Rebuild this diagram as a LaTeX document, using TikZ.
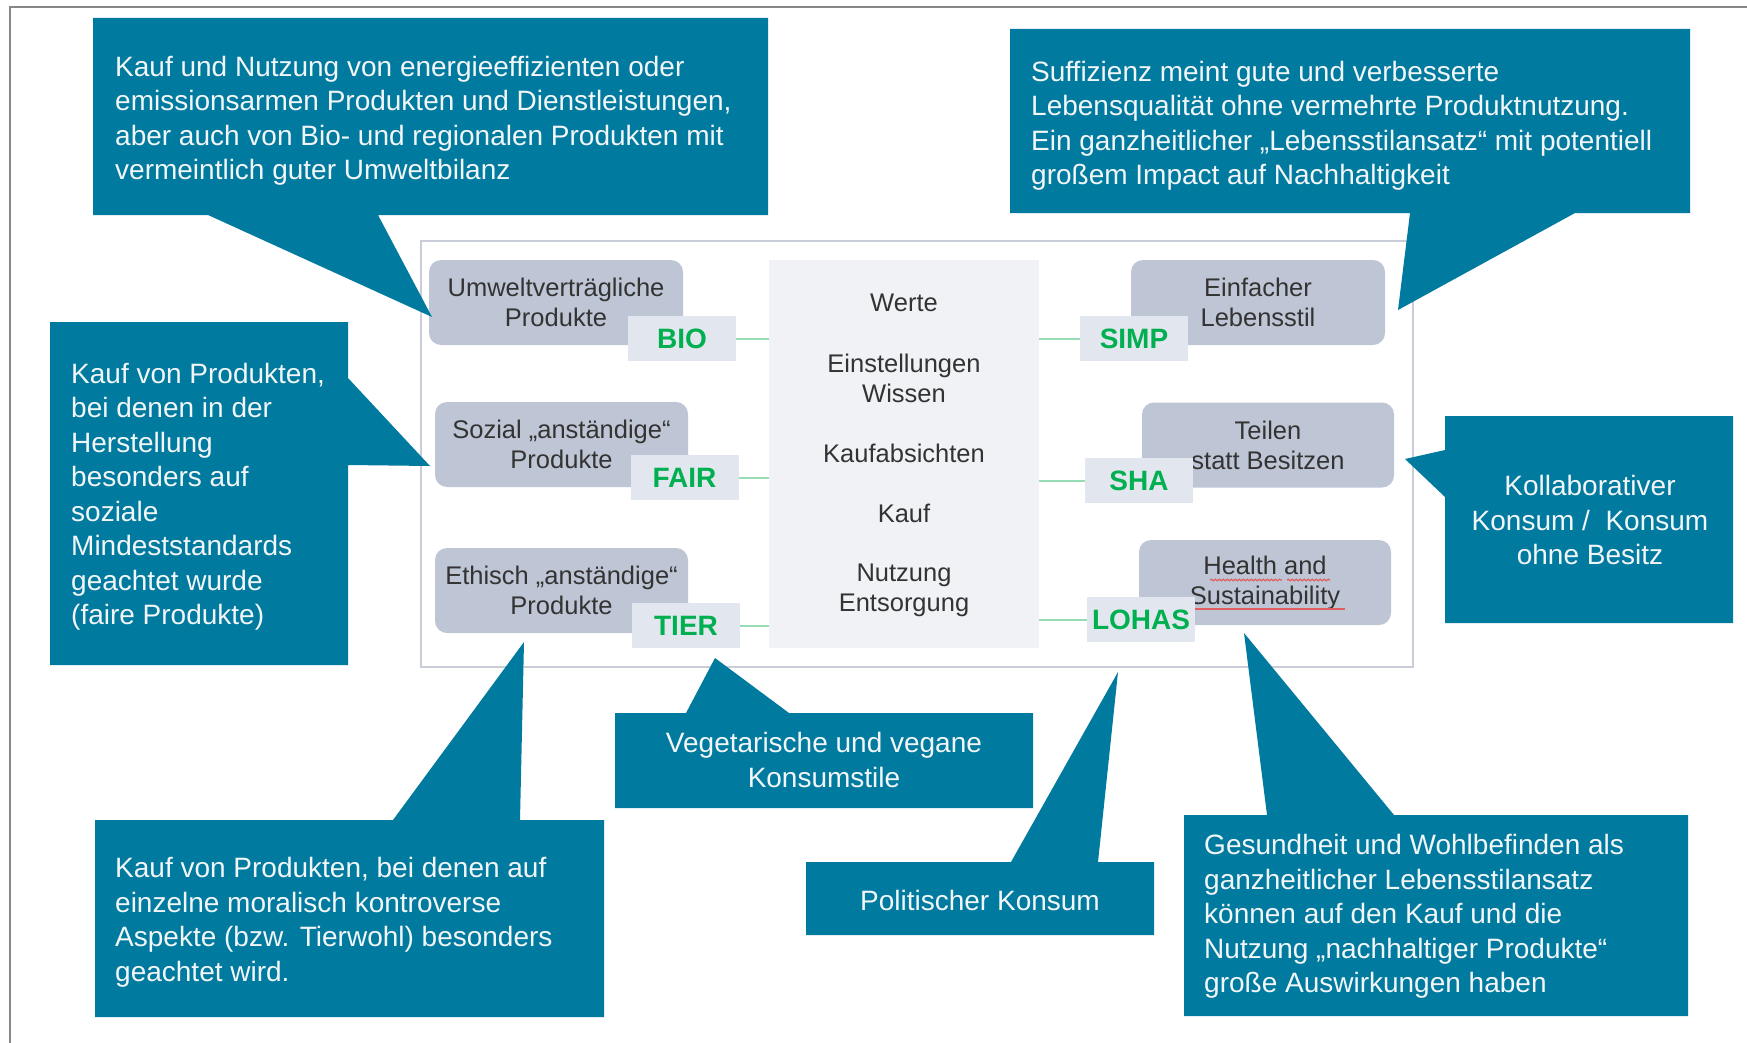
\documentclass[tikz,border=0pt]{standalone}
\usepackage{fontspec}
\setmainfont{Liberation Sans}
\usetikzlibrary{calc,decorations.pathmorphing}
\definecolor{tealc}{RGB}{0,122,158}
\definecolor{ctextc}{RGB}{242,246,248}
\definecolor{gboxc}{RGB}{190,197,212}
\definecolor{lboxc}{RGB}{226,230,239}
\definecolor{colc}{RGB}{240,242,246}
\definecolor{mainc}{RGB}{200,205,216}
\definecolor{greenc}{RGB}{0,176,80}
\definecolor{glinec}{RGB}{150,220,180}
\definecolor{dtextc}{RGB}{51,51,51}
\definecolor{framec}{RGB}{135,135,135}
\definecolor{redc}{RGB}{225,95,95}
\newcommand\callfont{\fontsize{28}{34.5}\selectfont}
\newcommand\boxfont{\fontsize{25.5}{30}\selectfont}
\newcommand\labfont{\fontsize{28}{32}\selectfont\bfseries}
\begin{document}
\begin{tikzpicture}[x=1pt,y=-1pt,
  callout/.style={fill=tealc},
  ctext/.style={text=ctextc, font=\callfont, inner sep=0pt},
  graybox/.style={fill=gboxc, rounded corners=12pt, minimum height=85pt, text=dtextc, font=\boxfont, align=center, inner sep=0pt},
  labbox/.style={fill=lboxc, minimum width=108pt, minimum height=45pt, text=greenc, font=\labfont, inner sep=0pt},
  gconn/.style={draw=glinec, line width=2pt},
  coltext/.style={text=dtextc, font=\boxfont, align=center, inner sep=0pt},
  redline/.style={draw=redc, line width=1.2pt}]
\useasboundingbox (0,0) rectangle (1747,1043);
\fill[white] (0,0) rectangle (1747,1043);
% outer frame
\draw[framec, line width=2.5pt] (10,1043) -- (10,7) -- (1747,7);

% main box and centre column
\node[draw=mainc, line width=2pt, fill=white, minimum width=992pt, minimum height=426pt, inner sep=0pt] (main) at (917,454) {};
\node[fill=colc, minimum width=270pt, minimum height=388pt, inner sep=0pt] (col) at (904,454) {};
\node[coltext] (werte) at (904,303) {Werte};
\node[coltext] (einst) at (904,378) {Einstellungen\\Wissen};
\node[coltext] (kabs) at (904,453) {Kaufabsichten};
\node[coltext] (kauf) at (904,513) {Kauf};
\node[coltext] (nutz) at (904,590) {Nutzung\\Entsorgung};

% grey boxes
\node[graybox, minimum width=254pt] (umw) at (556,302.5) {Umweltverträgliche\\Produkte};
\node[graybox, minimum width=253pt] (soz) at (561.5,444.5) {Sozial „anständige“\\Produkte};
\node[graybox, minimum width=253pt] (eth) at (561.5,590.5) {Ethisch „anständige“\\Produkte};
\node[graybox, minimum width=254pt] (einf) at (1258,302.5) {Einfacher\\Lebensstil};
\node[graybox, minimum width=252pt] (teil) at (1268,445) {Teilen\\statt Besitzen};
\node[graybox, minimum width=252pt] (health) at (1265,582.5) {Health and\\Sustainability};
\draw[redline, decorate, decoration={snake, amplitude=0.8pt, segment length=4pt}] (1210,580) -- (1282,580);
\draw[redline, decorate, decoration={snake, amplitude=0.8pt, segment length=4pt}] (1287,580) -- (1330,580);
\draw[redline] (1195,609) -- (1345,609);

% labels
\node[labbox] (bio) at (682,338.5) {BIO};
\node[labbox] (fair) at (684.5,477.5) {FAIR};
\node[labbox] (tier) at (686,625.5) {TIER};
\node[labbox] (simp) at (1134,338.5) {SIMP};
\node[labbox] (sha) at (1139,480.5) {SHA};
\node[labbox] (lohas) at (1141,619.5) {LOHAS};

% connectors
\draw[gconn] (bio.east) -- (col.west |- bio.east);
\draw[gconn] (fair.east) -- (col.west |- fair.east);
\draw[gconn] (tier.east) -- (col.west |- tier.east);
\draw[gconn] (simp.west) -- (col.east |- simp.west);
\draw[gconn] (sha.west) -- (col.east |- sha.west);
\draw[gconn] (lohas.west) -- (col.east |- lohas.west);

% callouts
\fill[callout] (93,18) -- (768,18) -- (768,215) -- (378,215) -- (432,317) -- (208,215) -- (93,215) -- cycle;
\node[ctext, anchor=north west, align=left] (ta) at (115,56) {Kauf und Nutzung von energieeffizienten oder\\emissionsarmen Produkten und Dienstleistungen,\\aber auch von Bio- und regionalen Produkten mit\\vermeintlich guter Umweltbilanz};

\fill[callout] (1010,29) -- (1690,29) -- (1690,213) -- (1575,213) -- (1398,310) -- (1410,213) -- (1010,213) -- cycle;
\node[ctext, anchor=north west, align=left] (tb) at (1031,61) {Suffizienz meint gute und verbesserte\\Lebensqualität ohne vermehrte Produktnutzung.\\Ein ganzheitlicher „Lebensstilansatz“ mit potentiell\\großem Impact auf Nachhaltigkeit};

\fill[callout] (50,322) -- (348,322) -- (348,378) -- (430,466) -- (348,465) -- (348,665) -- (50,665) -- cycle;
\node[ctext, anchor=north west, align=left] (tc) at (71,363) {Kauf von Produkten,\\bei denen in der\\Herstellung\\besonders auf\\soziale\\Mindeststandards\\geachtet wurde\\(faire Produkte)};

\fill[callout] (1445,416) -- (1733,416) -- (1733,623) -- (1445,623) -- (1445,497) -- (1405,459) -- (1445,450) -- cycle;
\node[ctext, align=center] (td) at (1590,520) {Kollaborativer\\Konsum /\ \ Konsum\\ohne Besitz};

\fill[callout] (95,820) -- (393,820) -- (524,642) -- (520,820) -- (604,820) -- (604,1017) -- (95,1017) -- cycle;
\node[ctext, anchor=north west, align=left] (te) at (115,857) {Kauf von Produkten, bei denen auf\\einzelne moralisch kontroverse\\Aspekte (bzw. Tierwohl) besonders\\geachtet wird.};

\fill[callout] (615,713) -- (686,713) -- (715,658) -- (789,713) -- (1033,713) -- (1033,808) -- (615,808) -- cycle;
\node[ctext, align=center] (tf) at (824,760) {Vegetarische und vegane\\Konsumstile};

\fill[callout] (806,862) -- (1011,862) -- (1118,672) -- (1098,862) -- (1154,862) -- (1154,935) -- (806,935) -- cycle;
\node[ctext, align=center] (tg) at (980,900) {Politischer Konsum};

\fill[callout] (1184,815) -- (1267,815) -- (1244,633) -- (1394,815) -- (1688,815) -- (1688,1016) -- (1184,1016) -- cycle;
\node[ctext, anchor=north west, align=left] (th) at (1204,834) {Gesundheit und Wohlbefinden als\\ganzheitlicher Lebensstilansatz\\können auf den Kauf und die\\Nutzung „nachhaltiger Produkte“\\große Auswirkungen haben};
\end{tikzpicture}
\end{document}
